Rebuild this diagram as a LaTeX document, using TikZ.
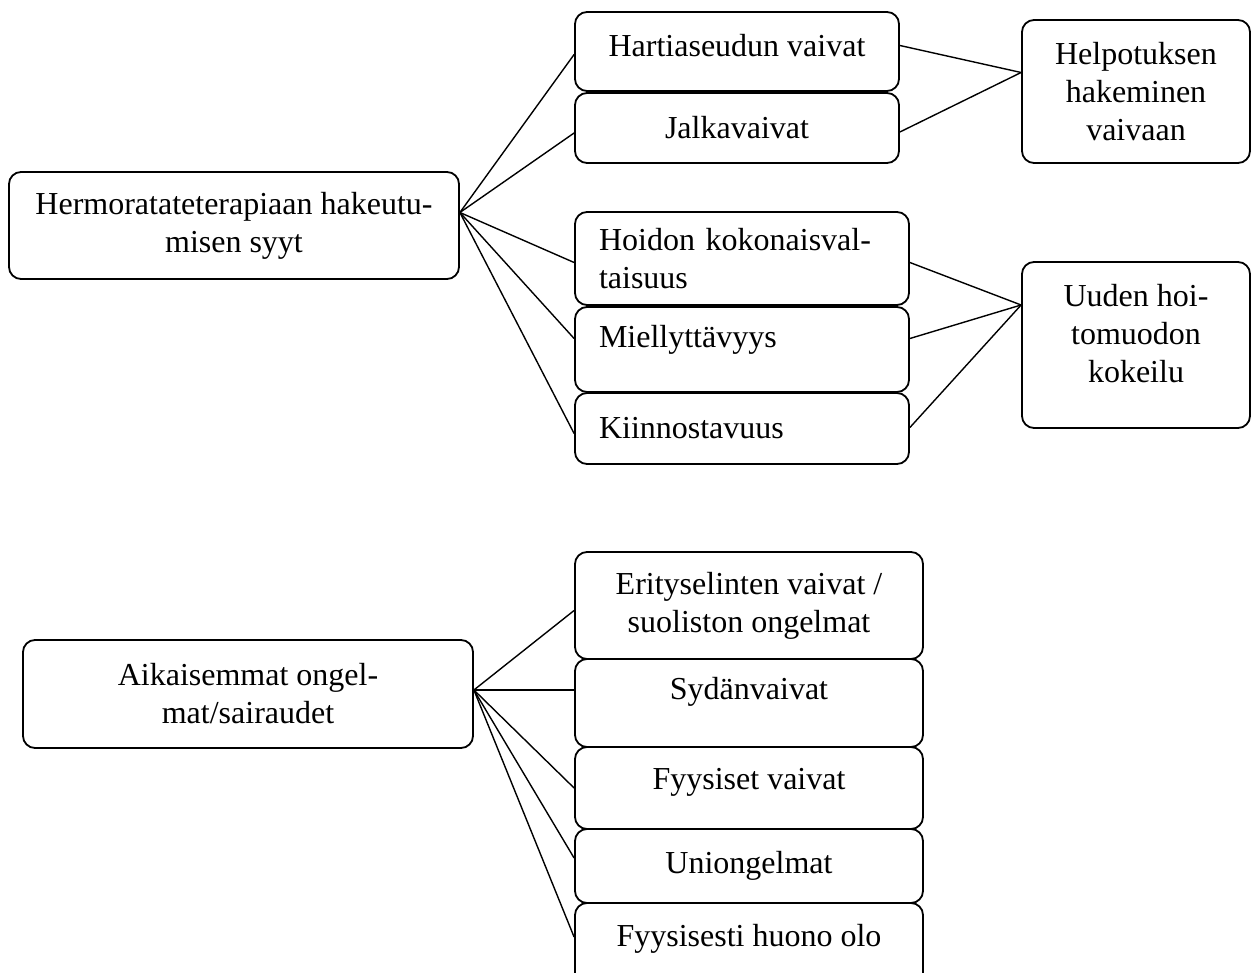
\documentclass[tikz,border=0pt]{standalone}
\usepackage{fontspec}
\setmainfont{Liberation Serif}
\usetikzlibrary{shapes}

\begin{document}
\begin{tikzpicture}[x=1pt,y=-1pt]
      \tikzstyle{box}=[rectangle,draw,rounded corners=12pt,line width=1.8pt,inner sep=0pt,align=center,font=\fontsize{32}{38}\selectfont]
      \tikzstyle{leftbox}=[box,align=left,text width=286pt]
      \tikzstyle{link}=[line width=1.4pt]
      \useasboundingbox (0,0) rectangle (1251,973);
      % first group
      \node[box,minimum width=450pt,minimum height=107pt] (syyt) at (234,225.5) {Hermoratateterapiaan hakeutu-\\misen syyt};
      \node[box,minimum width=324pt,minimum height=79pt,text depth=12pt] (hart) at (737,51.5) {Hartiaseudun vaivat};
      \node[box,minimum width=324pt,minimum height=70pt] (jalka) at (737,128) {Jalkavaivat};
      \node[box,minimum width=228pt,minimum height=143pt] (help) at (1136,91.5) {Helpotuksen\\hakeminen\\vaivaan};
      \node[leftbox,minimum width=334pt,minimum height=93pt] (hoidon) at (742,258.5) {Hoidon kokonaisval-\\taisuus};
      \node[leftbox,minimum width=334pt,minimum height=85pt,text depth=27pt] (miell) at (742,349.5) {Miellyttävyys};
      \node[leftbox,minimum width=334pt,minimum height=71pt] (kiinn) at (742,428.5) {Kiinnostavuus};
      \node[box,minimum width=228pt,minimum height=166pt,text depth=24pt] (uuden) at (1136,345) {Uuden hoi-\\tomuodon\\kokeilu};
      % second group
      \node[box,minimum width=450pt,minimum height=108pt] (aik) at (248,694) {Aikaisemmat ongel-\\mat/sairaudet};
      \node[box,minimum width=348pt,minimum height=107pt] (erit) at (749,605.5) {Erityselinten vaivat /\\suoliston ongelmat};
      \node[box,minimum width=348pt,minimum height=88pt,text depth=29pt] (syd) at (749,703) {Sydänvaivat};
      \node[box,minimum width=348pt,minimum height=82pt,text depth=19pt] (fyys) at (749,788) {Fyysiset vaivat};
      \node[box,minimum width=348pt,minimum height=74pt] (uni) at (749,866) {Uniongelmat};
      \node[box,minimum width=348pt,minimum height=82pt,text depth=18pt] (fyh) at (749,944) {Fyysisesti huono olo};
      % connectors
      \foreach \n/\s in {hart/-3,jalka/-5,hoidon/-4,miell/11,kiinn/-5}
        \draw[link] ([yshift=13pt]syyt.east) -- ([yshift=\s pt]\n.west);
      \foreach \n/\s in {hart/6,jalka/-4}
        \draw[link] ([yshift=\s pt]\n.east) -- ([yshift=19pt]help.west);
      \foreach \n/\s in {hoidon/-4,miell/11,kiinn/1}
        \draw[link] ([yshift=\s pt]\n.east) -- ([yshift=40pt]uuden.west);
      \foreach \n/\s in {erit/-5,syd/13,fyys/0,uni/8,fyh/7}
        \draw[link] ([yshift=4pt]aik.east) -- ([yshift=\s pt]\n.west);
\end{tikzpicture}
\end{document}
